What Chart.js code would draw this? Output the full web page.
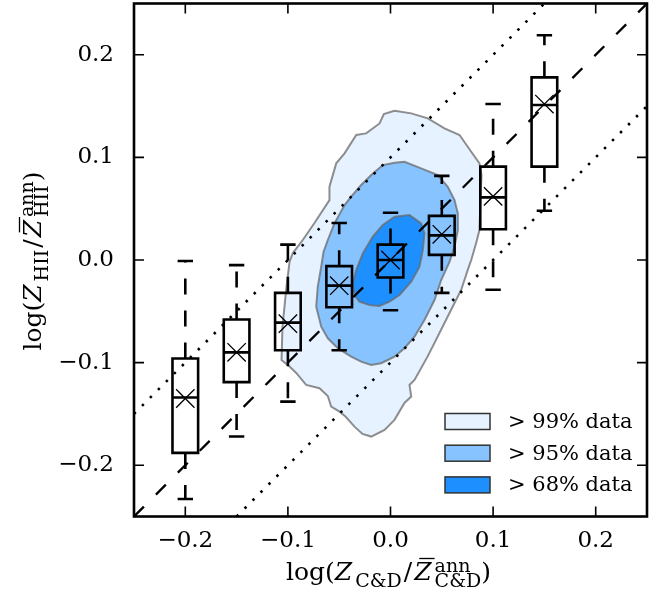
<!DOCTYPE html>
<html lang="en">
<head>
    <meta charset="UTF-8">
    <title>Metallicity comparison</title>
    <script src="https://cdn.jsdelivr.net/npm/chart.js"></script>
    <style>
        html, body { margin: 0; padding: 0; background: #fff; }
        #wrap { width: 665px; height: 595px; position: relative; }
    </style>
</head>
<body>
<div id="wrap"><canvas id="chart"></canvas></div>
<script>
// Box plot bins along the x axis
const boxX = [-0.2, -0.15, -0.1, -0.05, 0.0, 0.05, 0.1, 0.15]
const boxQ1 = [-0.188, -0.119, -0.088, -0.046, -0.017, 0.005, 0.030, 0.091]
const boxQ3 = [-0.096, -0.058, -0.032, -0.006, 0.015, 0.043, 0.091, 0.178]
const boxMedian = [-0.134, -0.090, -0.061, -0.025, 0.000, 0.024, 0.061, 0.151]
const boxMean = [-0.135, -0.090, -0.062, -0.025, 0.000, 0.025, 0.062, 0.152]
const whiskerLow = [-0.233, -0.172, -0.138, -0.088, -0.049, -0.032, -0.029, 0.048]
const whiskerHigh = [-0.001, -0.005, 0.015, 0.036, 0.046, 0.082, 0.152, 0.219]

// Density contours (traced outlines)
const outerX = [0.0039, 0.0202, 0.0364, 0.0526, 0.0673, 0.0787, 0.0867, 0.0887, 0.0877, 0.0867, 0.0835, 0.0787, 0.0753, 0.0689, 0.0624, 0.0526, 0.0429, 0.0361, 0.0234, 0.0185, 0.0202, 0.0136, 0.0039, -0.0058, -0.0188, -0.0273, -0.0351, -0.0439, -0.0497, -0.0578, -0.0611, -0.0692, -0.0822, -0.0919, -0.0984, -0.1062, -0.1053, -0.1017, -0.0984, -0.0952, -0.0855, -0.0741, -0.0595, -0.0595, -0.0529, -0.0448, -0.0334, -0.0237, -0.0107, -0.0065]
const outerY = [0.1454, 0.1429, 0.1380, 0.1283, 0.1218, 0.1055, 0.0942, 0.0828, 0.0584, 0.0292, 0.0166, 0.0, -0.0097, -0.0292, -0.0419, -0.0614, -0.0808, -0.0942, -0.1169, -0.1218, -0.1331, -0.1393, -0.1558, -0.1656, -0.1721, -0.1695, -0.1624, -0.1526, -0.1478, -0.1429, -0.1325, -0.1250, -0.1218, -0.1101, -0.1039, -0.0974, -0.0653, -0.0292, -0.0019, 0.0068, 0.0195, 0.0360, 0.0584, 0.0714, 0.0942, 0.1039, 0.1218, 0.1234, 0.1331, 0.1422]
const midX = [0.0039, 0.0136, 0.0299, 0.0461, 0.0558, 0.0624, 0.0656, 0.0656, 0.0624, 0.0575, 0.0494, 0.0429, 0.0331, 0.0234, 0.0136, 0.0039, -0.0091, -0.0188, -0.0286, -0.0383, -0.0514, -0.0611, -0.0675, -0.0724, -0.0709, -0.0675, -0.0653, -0.0611, -0.0546, -0.0448, -0.0383, -0.0286, -0.0188, -0.0075]
const midY = [0.0948, 0.0957, 0.0893, 0.0828, 0.0714, 0.0584, 0.0455, 0.0292, 0.0130, -0.0019, -0.0195, -0.0390, -0.0584, -0.0747, -0.0860, -0.0942, -0.1006, -0.1023, -0.0991, -0.0942, -0.0860, -0.0763, -0.0650, -0.0455, -0.0260, -0.0065, 0.0078, 0.0195, 0.0357, 0.0536, 0.0617, 0.0731, 0.0828, 0.0925]
const innerX = [0.0039, 0.0185, 0.0299, 0.0331, 0.0315, 0.0283, 0.0202, 0.0088, -0.0010, -0.0107, -0.0205, -0.0302, -0.0351, -0.0367, -0.0334, -0.0270, -0.0173, -0.0075]
const innerY = [0.0422, 0.0438, 0.0357, 0.0260, 0.0097, -0.0065, -0.0211, -0.0341, -0.0406, -0.0448, -0.0438, -0.0406, -0.0341, -0.0227, -0.0097, 0.0065, 0.0227, 0.0341]

const legendLabels = ["> 99% data", "> 95% data", "> 68% data"]
const xTicks = [-0.2, -0.1, 0.0, 0.1, 0.2]
const yTicks = [-0.2, -0.1, 0.0, 0.1, 0.2]
const axisMin = -0.25
const axisMax = 0.25
const band = 0.1 // offset of the dotted lines

const BOX_HALF = 0.0125
const CAP_HALF = 0.0075
const FONT = '"DejaVu Serif"'

function gap() { return { x: null, y: null } }

function polygon(xs, ys) {
    const pts = xs.map((x, i) => ({ x: x, y: ys[i] }))
    pts.push(pts[0])
    return pts
}

// Build box plot pieces from the arrays
const boxes = [], medians = [], whiskers = [], caps = [], means = []
boxX.forEach((x, i) => {
    boxes.push({ x: x - BOX_HALF, y: boxQ1[i] }, { x: x + BOX_HALF, y: boxQ1[i] },
        { x: x + BOX_HALF, y: boxQ3[i] }, { x: x - BOX_HALF, y: boxQ3[i] },
        { x: x - BOX_HALF, y: boxQ1[i] }, gap())
    medians.push({ x: x - BOX_HALF, y: boxMedian[i] }, { x: x + BOX_HALF, y: boxMedian[i] }, gap())
    whiskers.push({ x: x, y: boxQ3[i] }, { x: x, y: whiskerHigh[i] }, gap(),
        { x: x, y: boxQ1[i] }, { x: x, y: whiskerLow[i] }, gap())
    caps.push({ x: x - CAP_HALF, y: whiskerHigh[i] }, { x: x + CAP_HALF, y: whiskerHigh[i] }, gap(),
        { x: x - CAP_HALF, y: whiskerLow[i] }, { x: x + CAP_HALF, y: whiskerLow[i] }, gap())
    means.push({ x: x, y: boxMean[i] })
})

const contourStyle = { borderColor: "rgba(105,105,105,0.75)", borderWidth: 2, pointRadius: 0, fill: "shape" }
const contourColors = ["#e6f2ff", "#87c3ff", "#1e8fff"]

const datasets = [
    { ...contourStyle, label: legendLabels[0], data: polygon(outerX, outerY), backgroundColor: contourColors[0], order: 12 },
    { ...contourStyle, label: legendLabels[1], data: polygon(midX, midY), backgroundColor: contourColors[1], order: 11 },
    { ...contourStyle, label: legendLabels[2], data: polygon(innerX, innerY), backgroundColor: contourColors[2], order: 10 },
    // one-to-one line and the +/- band
    { data: [{ x: axisMin, y: axisMin }, { x: axisMax, y: axisMax }], borderColor: "#000", borderWidth: 2.3, borderDash: [14, 17], pointRadius: 0, order: 6 },
    { data: [{ x: axisMin, y: axisMin + band }, { x: axisMax - band, y: axisMax }], borderColor: "#000", borderWidth: 2.6, borderDash: [2.5, 8.8], pointRadius: 0, order: 6 },
    { data: [{ x: axisMin + band, y: axisMin }, { x: axisMax, y: axisMax - band }], borderColor: "#000", borderWidth: 2.6, borderDash: [2.5, 8.8], pointRadius: 0, order: 6 },
    // box plots
    { data: whiskers, borderColor: "#000", borderWidth: 2.6, borderDash: [16, 16], pointRadius: 0, spanGaps: false, order: 4 },
    { data: caps, borderColor: "#000", borderWidth: 2.6, pointRadius: 0, spanGaps: false, order: 4 },
    { data: boxes, borderColor: "#000", borderWidth: 2.6, borderCapStyle: "square", borderJoinStyle: "miter", pointRadius: 0, spanGaps: false, order: 3 },
    { data: medians, borderColor: "#000", borderWidth: 2.6, pointRadius: 0, spanGaps: false, order: 3 },
    { data: means, showLine: false, pointStyle: "crossRot", pointRadius: 13, pointBorderWidth: 1.3, pointBorderColor: "#000", order: 1 }
]

function tickLabel(v) {
    if (Math.abs(v) < 1e-9) return "0.0"
    return (v < 0 ? "\u2212" : "") + Math.abs(v).toFixed(1)
}

// Pieces of the math-style axis titles
function mathFont(p) { return (p.it ? "italic " : "") + p.s + "px " + FONT }

function runWidth(ctx, r) {
    const parts = r.stack || [r]
    return Math.max(...parts.map(p => { ctx.font = mathFont(p); return ctx.measureText(p.t).width + (p.pad || 0) }))
}

function drawMath(ctx, runs, cx, cy, vertical) {
    ctx.save()
    const width = runs.reduce((w, r) => w + runWidth(ctx, r), 0)
    ctx.translate(cx, cy)
    if (vertical) ctx.rotate(-Math.PI / 2)
    ctx.textAlign = "left"
    ctx.textBaseline = "alphabetic"
    ctx.fillStyle = "#000"
    ctx.strokeStyle = "#000"
    let u = -width / 2
    runs.forEach(r => {
        const parts = r.stack || [r]
        parts.forEach(p => {
            ctx.font = mathFont(p)
            ctx.fillText(p.t, u + (p.dx || 0), p.dy || 0)
            if (p.bar) {
                const w = ctx.measureText(p.t).width
                ctx.lineWidth = 1.3
                ctx.beginPath()
                ctx.moveTo(u + 5, -p.s * 0.86)
                ctx.lineTo(u + w + 3, -p.s * 0.86)
                ctx.stroke()
            }
        })
        u += runWidth(ctx, r)
    })
    ctx.restore()
}

const xTitle = [
    { t: "log(", s: 25 }, { t: "Z", s: 25, it: true, pad: 3 }, { t: "C&D", s: 19, dy: 7, pad: 2 },
    { t: "/", s: 25, pad: 2 }, { t: "Z", s: 25, it: true, bar: true, pad: 3 },
    { stack: [{ t: "ann", s: 19, dy: -8 }, { t: "C&D", s: 19, dy: 7 }], pad: 3 }, { t: ")", s: 25 }
]
const yTitle = [
    { t: "log(", s: 25 }, { t: "Z", s: 25, it: true, pad: 3 }, { t: "HII", s: 19, dy: 7, pad: 2 },
    { t: "/", s: 25, pad: 2 }, { t: "Z", s: 25, it: true, bar: true, pad: 3 },
    { stack: [{ t: "ann", s: 19, dy: -8 }, { t: "HII", s: 19, dy: 7 }] }, { t: ")", s: 25 }
]

// Frame, inward ticks, legend and titles
const decor = {
    id: "decor",
    afterDatasetsDraw(chart) {
        const { ctx, chartArea: a, scales } = chart
        ctx.save()
        ctx.strokeStyle = "#000"
        ctx.lineWidth = 1.6
        ctx.beginPath()
        scales.x.ticks.forEach(t => {
            const px = scales.x.getPixelForValue(t.value)
            ctx.moveTo(px, a.bottom); ctx.lineTo(px, a.bottom - 10)
            ctx.moveTo(px, a.top); ctx.lineTo(px, a.top + 10)
        })
        scales.y.ticks.forEach(t => {
            const py = scales.y.getPixelForValue(t.value)
            ctx.moveTo(a.left, py); ctx.lineTo(a.left + 10, py)
            ctx.moveTo(a.right, py); ctx.lineTo(a.right - 10, py)
        })
        ctx.stroke()
        ctx.lineWidth = 2.6
        ctx.strokeRect(a.left, a.top, a.right - a.left, a.bottom - a.top)

        // legend, lower right
        const bx = a.right - 202
        let by = a.bottom - 103
        ctx.font = "21px " + FONT
        ctx.textBaseline = "middle"
        ctx.textAlign = "left"
        legendLabels.forEach((label, i) => {
            ctx.fillStyle = contourColors[i]
            ctx.fillRect(bx, by, 45, 16)
            ctx.strokeStyle = "#333"
            ctx.lineWidth = 1.5
            ctx.strokeRect(bx, by, 45, 16)
            ctx.fillStyle = "#000"
            ctx.fillText(label, bx + 63, by + 9)
            by += 31.7
        })
        ctx.restore()
    },
    afterDraw(chart) {
        const { ctx, chartArea: a } = chart
        drawMath(ctx, xTitle, (a.left + a.right) / 2 - 2, 580, false)
        drawMath(ctx, yTitle, 41, (a.top + a.bottom) / 2 + 1, true)
    }
}

const tickFont = { family: FONT, size: 23 }

new Chart(document.getElementById("chart"), {
    type: "line",
    data: { datasets: datasets },
    options: {
        responsive: true,
        maintainAspectRatio: false,
        animation: false,
        events: [],
        layout: { autoPadding: false, padding: { left: 0, right: 18, top: 3.5, bottom: 0 } },
        plugins: { legend: { display: false }, tooltip: { enabled: false } },
        elements: { line: { tension: 0 } },
        scales: {
            x: {
                type: "linear", min: axisMin, max: axisMax,
                afterBuildTicks: s => { s.ticks = xTicks.map(v => ({ value: v })) },
                afterFit: s => { s.height = 78.5; s.paddingLeft = 0; s.paddingRight = 0 },
                grid: { display: false },
                border: { display: false },
                ticks: { font: tickFont, color: "#000", padding: 3, maxRotation: 0, callback: tickLabel }
            },
            y: {
                type: "linear", min: axisMin, max: axisMax,
                afterBuildTicks: s => { s.ticks = yTicks.map(v => ({ value: v })) },
                afterFit: s => { s.width = 134; s.paddingTop = 0; s.paddingBottom = 0 },
                grid: { display: false },
                border: { display: false },
                ticks: { font: tickFont, color: "#000", padding: 12, callback: tickLabel }
            }
        }
    },
    plugins: [decor]
})
</script>
</body>
</html>
